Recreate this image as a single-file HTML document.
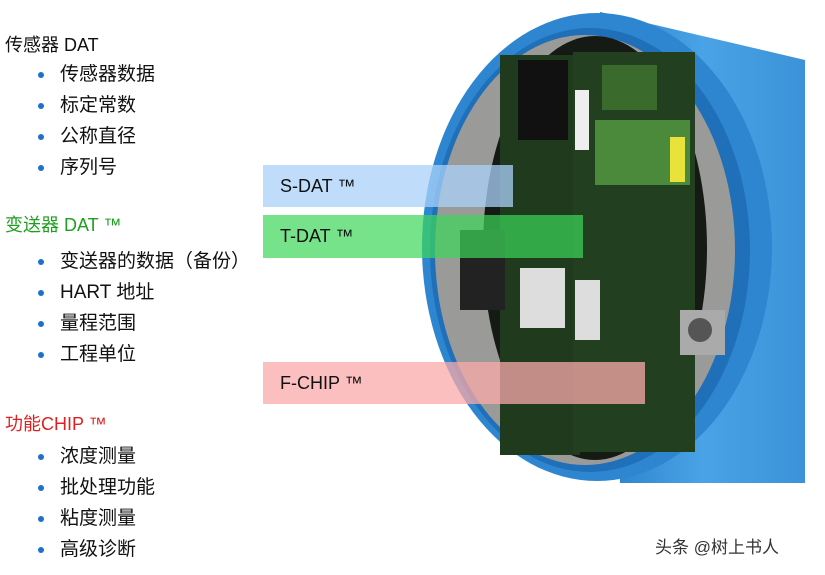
<!DOCTYPE html>
<html><head><meta charset="utf-8"><style>
body{margin:0;width:825px;height:575px;background:#fff;position:relative;overflow:hidden;font-family:"Liberation Sans","Noto Sans CJK SC",sans-serif;}
.t{position:absolute;font-size:19px;color:#111;white-space:nowrap;line-height:20px}
.h{font-size:18px}
.b{position:absolute;width:6px;height:6px;border-radius:50%;background:#1f6fd0}
.bar{position:absolute;font-size:18px;color:#111;padding-left:17px;box-sizing:border-box;line-height:42px}
</style></head><body>
<svg width="825" height="575" style="position:absolute;left:0;top:0">
<defs><linearGradient id="bl" x1="0" x2="1"><stop offset="0" stop-color="#2b7fc8"/><stop offset="0.5" stop-color="#4aa3e6"/><stop offset="1" stop-color="#3b92d8"/></linearGradient></defs>
<path d="M600 12 L805 60 L805 483 L620 483 Z" fill="url(#bl)"/>
<ellipse cx="597" cy="247" rx="175" ry="234" fill="#2f86d0"/>
<ellipse cx="590" cy="250" rx="160" ry="222" fill="#1f70b8"/>
<ellipse cx="585" cy="250" rx="150" ry="215" fill="#9a9a98"/>
<ellipse cx="595" cy="248" rx="112" ry="212" fill="#151a14"/>
<rect x="500" y="55" width="80" height="400" fill="#1f3a1c"/>
<rect x="573" y="52" width="122" height="400" fill="#22401f"/>
<rect x="595" y="120" width="95" height="65" fill="#4a8a3a"/>
<rect x="602" y="65" width="55" height="45" fill="#3a6a2c"/>
<rect x="518" y="60" width="50" height="80" fill="#111"/>
<rect x="575" y="90" width="14" height="60" fill="#eee"/>
<rect x="670" y="137" width="15" height="45" fill="#e8e23a"/>
<rect x="520" y="268" width="45" height="60" fill="#ddd"/>
<rect x="575" y="280" width="25" height="60" fill="#ddd"/>
<rect x="680" y="310" width="45" height="45" fill="#aaa"/>
<ellipse cx="700" cy="330" rx="12" ry="12" fill="#555"/>
<rect x="460" y="230" width="45" height="80" fill="#222"/>
</svg>
<div class="bar" style="left:263px;top:165px;width:250px;height:42px;background:rgba(170,210,250,0.75)">S-DAT ™</div>
<div class="bar" style="left:263px;top:215px;width:320px;height:43px;background:rgba(60,215,90,0.7)">T-DAT ™</div>
<div class="bar" style="left:263px;top:362px;width:382px;height:42px;background:rgba(250,170,170,0.75)">F-CHIP ™</div>

<div class="t h" style="left:5px;top:35px">传感器 DAT</div>
<div class="b" style="left:38px;top:72px"></div><div class="t" style="left:60px;top:65px">传感器数据</div>
<div class="b" style="left:38px;top:103px"></div><div class="t" style="left:60px;top:96px">标定常数</div>
<div class="b" style="left:38px;top:134px"></div><div class="t" style="left:60px;top:127px">公称直径</div>
<div class="b" style="left:38px;top:165px"></div><div class="t" style="left:60px;top:158px">序列号</div>

<div class="t h" style="left:5px;top:215px;color:#1ea01e">变送器 DAT ™</div>
<div class="b" style="left:38px;top:259px"></div><div class="t" style="left:60px;top:252px">变送器的数据（备份）</div>
<div class="b" style="left:38px;top:290px"></div><div class="t" style="left:60px;top:283px">HART 地址</div>
<div class="b" style="left:38px;top:321px"></div><div class="t" style="left:60px;top:314px">量程范围</div>
<div class="b" style="left:38px;top:352px"></div><div class="t" style="left:60px;top:345px">工程单位</div>

<div class="t h" style="left:5px;top:414px;color:#e02020">功能CHIP ™</div>
<div class="b" style="left:38px;top:454px"></div><div class="t" style="left:60px;top:447px">浓度测量</div>
<div class="b" style="left:38px;top:485px"></div><div class="t" style="left:60px;top:478px">批处理功能</div>
<div class="b" style="left:38px;top:516px"></div><div class="t" style="left:60px;top:509px">粘度测量</div>
<div class="b" style="left:38px;top:547px"></div><div class="t" style="left:60px;top:540px">高级诊断</div>

<div class="t" style="left:655px;top:538px;font-size:17px;color:#333">头条 @树上书人</div>
</body></html>
